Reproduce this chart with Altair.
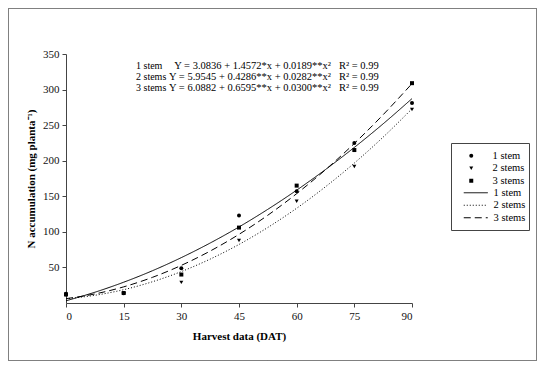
import altair as alt
import pandas as pd

# ---- data ----
days = [0, 15, 30, 45, 60, 75, 90]
stem1 = [13, 14, 49, 123, 157, 225, 281]
stem2 = [11, 13, 29, 88, 143, 192, 272]
stem3 = [12, 14, 40, 106, 165, 215, 309]

curve_days = [0, 7.5, 15, 22.5, 30, 37.5, 45, 52.5, 60, 67.5, 75, 82.5, 90]
curve1 = [3.1, 15.1, 29.2, 45.4, 63.8, 84.3, 106.9, 131.7, 158.6, 187.6, 218.7, 251.9, 287.3]
curve2 = [6.0, 10.8, 18.7, 29.9, 44.2, 61.7, 82.3, 106.2, 133.2, 163.4, 196.7, 233.2, 273.0]
curve3 = [6.1, 12.7, 22.7, 36.1, 52.9, 73.0, 96.5, 123.4, 153.7, 187.3, 224.3, 264.7, 308.4]

series = ["1 stem", "2 stems", "3 stems"]
equations = [
    "Y = 3.0836 + 1.4572*x + 0.0189**x²",
    "Y = 5.9545 + 0.4286**x + 0.0282**x²",
    "Y = 6.0882 + 0.6595**x + 0.0300**x²",
]
r2_texts = ["R² = 0.99", "R² = 0.99", "R² = 0.99"]
x_ticks = [0, 15, 30, 45, 60, 75, 90]
y_ticks = [50, 100, 150, 200, 250, 300, 350]

FONT = "Liberation Serif"

# ---- tables ----
pts = pd.DataFrame({
    "day": days * 3,
    "value": stem1 + stem2 + stem3,
    "entry": [series[0]] * 7 + [series[1]] * 7 + [series[2]] * 7,
})
lines = pd.DataFrame({
    "day": curve_days * 3,
    "value": curve1 + curve2 + curve3,
    "series": [series[0]] * 13 + [series[1]] * 13 + [series[2]] * 13,
})
texts = pd.DataFrame({
    "label": series,
    "eq": equations,
    "r2": r2_texts,
    "row": [0, 1, 2],
})

xs = alt.Scale(domain=[0, 90], nice=False, zero=False)
ys = alt.Scale(domain=[0, 350], nice=False)

x_enc = alt.X("day:Q", scale=xs, axis=alt.Axis(
    values=x_ticks, title="Harvest data (DAT)", grid=False,
    tickSize=4, labelPadding=3, titlePadding=9))
y_enc = alt.Y("value:Q", scale=ys, axis=alt.Axis(
    values=y_ticks, title="N accumulation (mg planta⁻¹)", grid=False,
    tickSize=4, labelPadding=3, titlePadding=6))

legend_common = dict(
    title=None, orient="none", padding=0, rowPadding=1.5,
    labelFont=FONT, labelFontSize=10.5, labelColor="black",
)

curves = alt.Chart(lines).mark_line(interpolate="monotone", strokeWidth=1, color="black").encode(
    x=x_enc,
    y=y_enc,
    strokeDash=alt.StrokeDash(
        "series:N", scale=alt.Scale(domain=series, range=[[1, 0], [1, 2], [7, 4]]),
        legend=alt.Legend(legendX=404.5, legendY=133.5, labelOffset=12.5,
                          symbolType="M-6,0H6", symbolSize=16, symbolStrokeWidth=1,
                          symbolStrokeColor="black", **legend_common)),
)

points = alt.Chart(pts).mark_point(filled=True, size=16, color="black", opacity=1).encode(
    x=alt.X("day:Q", scale=xs),
    y=alt.Y("value:Q", scale=ys),
    shape=alt.Shape(
        "entry:N", scale=alt.Scale(domain=series, range=["circle", "triangle-down", "square"]),
        legend=alt.Legend(legendX=400, legendY=96.5, labelOffset=16,
                          symbolSize=16, symbolFillColor="black", **legend_common)),
)

row_px = [11.7, 22.7, 33.7]
text_layers = []
for i in range(3):
    base = alt.Chart(texts).transform_filter(alt.datum.row == i)
    text_layers.append(base.mark_text(align="left", baseline="middle", font=FONT, fontSize=10, color="black").encode(
        x=alt.value(70), y=alt.value(row_px[i]), text="label:N"))
    text_layers.append(base.mark_text(align="right", baseline="middle", font=FONT, fontSize=10.5, color="black").encode(
        x=alt.value(265), y=alt.value(row_px[i]), text="eq:N"))
    text_layers.append(base.mark_text(align="left", baseline="middle", font=FONT, fontSize=10.5, color="black").encode(
        x=alt.value(273), y=alt.value(row_px[i]), text="r2:N"))

one_row = pd.DataFrame({"a": [0]})
border = alt.Chart(one_row).mark_rect(
    fillOpacity=0, stroke="black", strokeWidth=1, strokeDash=[1, 1]
).encode(x=alt.value(-57.5), x2=alt.value(470.5), y=alt.value(-45.5), y2=alt.value(306.5))
legend_box = alt.Chart(one_row).mark_rect(
    fill="white", stroke="#444444", strokeWidth=1
).encode(x=alt.value(385.5), x2=alt.value(463.5), y=alt.value(89.5), y2=alt.value(176.5))

chart = alt.layer(border, legend_box, curves, points, *text_layers).resolve_legend(
    shape="independent", strokeDash="independent"
).properties(
    width=346, height=249,
    autosize=alt.AutoSizeParams(type="none"),
    padding={"left": 58, "top": 46, "right": 125, "bottom": 58},
    background="white",
).configure_view(stroke=None).configure_axis(
    labelFont=FONT, labelFontSize=11, labelColor="#111111",
    titleFont=FONT, titleFontSize=11, titleFontWeight="bold", titleColor="black",
    domainColor="#444444", tickColor="#444444", domainWidth=1, tickWidth=1,
)

chart.save("out.html", embed_options={"renderer": "svg", "actions": False})
